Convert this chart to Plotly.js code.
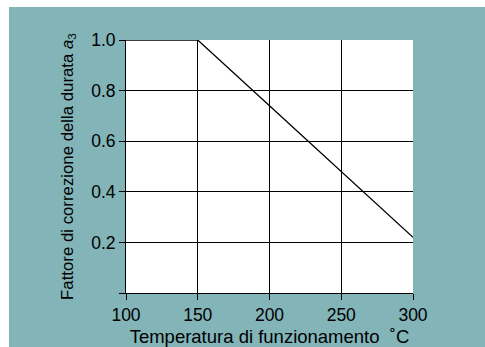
<!DOCTYPE html>
<html><head><meta charset="utf-8">
<script src="https://cdn.plot.ly/plotly-3.0.1.min.js"></script>
<style>html,body{margin:0;padding:0;background:#fff;overflow:hidden}#c{position:absolute;left:9px;top:7px;width:476px;height:340px}</style>
</head><body><div id="c"></div>
<script>
var temperature = [100, 150, 200, 250, 300];
var factor = [1.0, 1.0, 0.74, 0.48, 0.22];
var xTicks = [100, 150, 200, 250, 300];
var yTicks = [0, 0.2, 0.4, 0.6, 0.8, 1.0];
var yTickText = ['', '0.2', '0.4', '0.6', '0.8', '1.0'];

var font = 'Liberation Sans, Arial, sans-serif';
Plotly.newPlot('c', [{
  x: temperature, y: factor, type: 'scatter', mode: 'lines',
  line: {color: '#000', width: 1.3}, hoverinfo: 'skip'
}], {
  width: 476, height: 340,
  margin: {l: 117, r: 72, t: 33, b: 54},
  paper_bgcolor: '#82b4b8', plot_bgcolor: '#ffffff',
  showlegend: false,
  font: {family: font, color: '#000'},
  xaxis: {
    range: [100, 300], tickvals: xTicks, ticks: 'outside', ticklen: 6, tickcolor: '#000',
    showgrid: true, gridcolor: '#000', gridwidth: 1, zeroline: false,
    showline: true, linecolor: '#000', linewidth: 1,
    tickfont: {size: 17.5, family: font},
    title: {text: 'Temperatura di funzionamento  ˚C', font: {size: 18.5, family: font}, standoff: 13}
  },
  yaxis: {
    range: [0, 1.0], tickvals: yTicks, ticktext: yTickText, ticks: 'outside', ticklen: 6, tickcolor: '#000',
    showgrid: true, gridcolor: '#000', gridwidth: 1, zeroline: false,
    showline: true, linecolor: '#000', linewidth: 1,
    tickfont: {size: 17.5, family: font},
    title: {text: 'Fattore di correzione della durata <i>a</i><sub>3</sub>', font: {size: 16.8, family: font}, standoff: 13}
  }
}, {staticPlot: true});
</script></body></html>
